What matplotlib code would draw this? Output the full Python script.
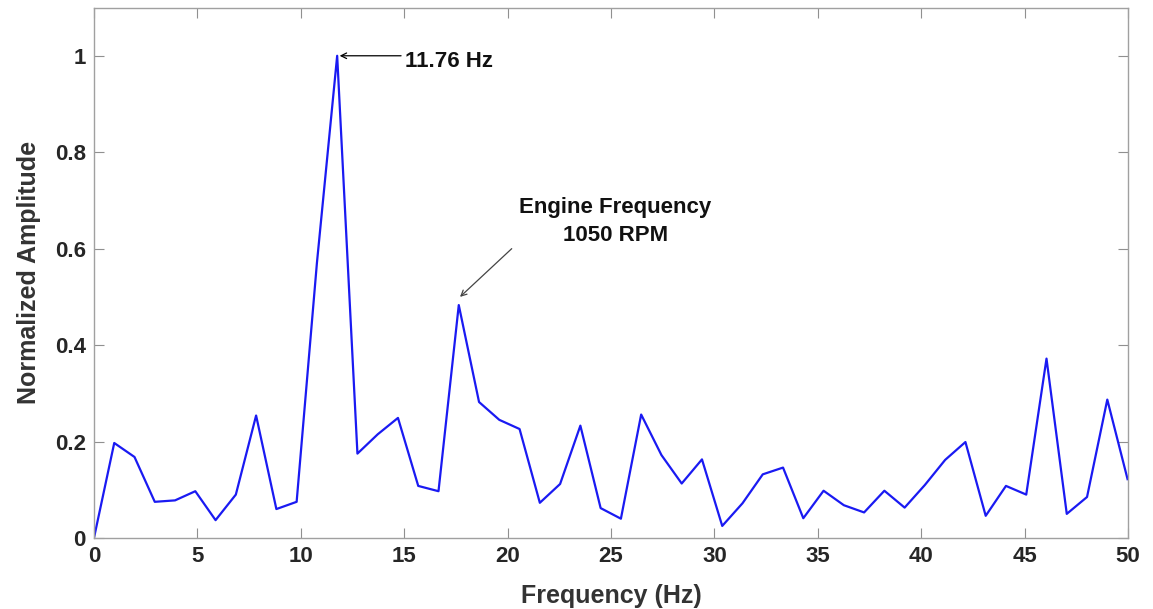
import numpy as np
import matplotlib.pyplot as plt
from matplotlib.ticker import FuncFormatter

# FFT spectrum (bin spacing 0.98 Hz)
freq_step = 0.98
amplitude = [0.0, 0.197, 0.168, 0.075, 0.078, 0.097, 0.037, 0.090, 0.254, 0.060,
             0.075, 0.570, 1.000, 0.175, 0.215, 0.249, 0.108, 0.097, 0.483, 0.282,
             0.245, 0.226, 0.073, 0.112, 0.233, 0.062, 0.040, 0.256, 0.172, 0.113,
             0.163, 0.025, 0.072, 0.132, 0.146, 0.041, 0.098, 0.068, 0.053, 0.098,
             0.063, 0.110, 0.162, 0.199, 0.046, 0.108, 0.090, 0.372, 0.050, 0.085,
             0.287, 0.122]
frequency = np.arange(len(amplitude)) * freq_step

x_ticks = [0, 5, 10, 15, 20, 25, 30, 35, 40, 45, 50]
y_ticks = [0, 0.2, 0.4, 0.6, 0.8, 1.0]

peak_label = "11.76 Hz"
engine_label = "Engine Frequency\n1050 RPM"

font = ['Liberation Sans', 'DejaVu Sans']
plt.rcParams['font.family'] = font
plt.rcParams['font.weight'] = 'bold'

fig = plt.figure(figsize=(11.53, 6.09), dpi=100)
ax = fig.add_axes([0.0815, 0.1166, 0.8968, 0.871])

ax.plot(frequency, amplitude, color=(0.1, 0.1, 0.95), linewidth=1.6)

ax.set_xlim(0, 50)
ax.set_ylim(0, 1.1)
ax.set_xticks(x_ticks)
ax.set_yticks(y_ticks)
ax.yaxis.set_major_formatter(FuncFormatter(lambda v, p: f"{v:g}"))
ax.tick_params(direction='in', top=True, right=True, length=7, width=0.8,
               color='#909090', labelsize=16, pad=6, labelcolor='#262626')
for lab in ax.get_xticklabels() + ax.get_yticklabels():
    lab.set_fontweight('bold')
for s in ax.spines.values():
    s.set_color('#a0a0a0')
    s.set_linewidth(1.0)

ax.set_xlabel("Frequency (Hz)", fontsize=18, fontweight='bold',
              color='#333333', labelpad=12)
ax.set_ylabel("Normalized Amplitude", fontsize=18, fontweight='bold',
              color='#333333', labelpad=10)

# 11.76 Hz peak marker
ax.annotate('', xy=(frequency[12] + 0.12, amplitude[12]), xytext=(14.85, 1.0),
            arrowprops=dict(arrowstyle='->', color='black', lw=0.9,
                            shrinkA=0, shrinkB=0))
ax.text(15.05, 0.988, peak_label, fontsize=16, fontweight='bold',
        va='center', ha='left', color='#111111')

# engine frequency marker
ax.annotate('', xy=(frequency[18] + 0.06, amplitude[18] + 0.017), xytext=(20.2, 0.60),
            arrowprops=dict(arrowstyle='->', color='#444444', lw=0.9,
                            shrinkA=0, shrinkB=0))
ax.text(25.2, 0.657, engine_label, fontsize=16, fontweight='bold',
        ha='center', va='center', linespacing=1.45, color='#111111')

fig.savefig("out.png", dpi=100)
